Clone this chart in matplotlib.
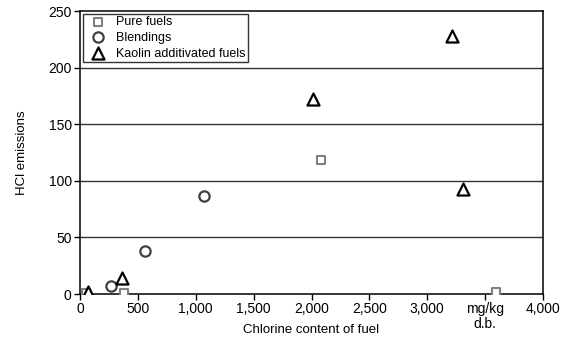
import matplotlib
matplotlib.use('Agg')
import matplotlib.pyplot as plt

plt.rcParams['font.family'] = ['Liberation Sans', 'DejaVu Sans']

# 燃料氯含量 (mg/kg d.b.) 与 HCl 排放
pure_x = [55, 380, 2080, 3595]
pure_y = [1, 1, 118, 2]
blend_x = [268, 565, 1070]
blend_y = [7, 38, 87]
kaolin_x = [70, 363, 2010, 3215, 3310]
kaolin_y = [2, 14, 172, 228, 93]

xticks = [0, 500, 1000, 1500, 2000, 2500, 3000, 3500, 4000]
xticklabels = ['0', '500', '1,000', '1,500', '2,000', '2,500', '3,000', 'mg/kg\nd.b.', '4,000']
yticks = [0, 50, 100, 150, 200, 250]

fig = plt.figure(figsize=(5.7, 3.45), dpi=100)
ax = fig.add_axes([0.1404, 0.1478, 0.8122, 0.8203])

for y in yticks[1:-1]:
    ax.axhline(y, color='#333333', linewidth=1.0, zorder=1)

ax.scatter(pure_x, pure_y, marker='s', s=36, facecolor='white', edgecolor='#808080',
           linewidth=1.5, label='Pure fuels', zorder=3)
ax.scatter(blend_x, blend_y, marker='o', s=55, facecolor='white', edgecolor='#404040',
           linewidth=1.6, label='Blendings', zorder=3)
ax.scatter(kaolin_x, kaolin_y, marker='^', s=75, facecolor='white', edgecolor='black',
           linewidth=1.6, label='Kaolin additivated fuels', zorder=4)

ax.set_xlim(0, 4000)
ax.set_ylim(0, 250)
ax.set_xticks(xticks)
ax.set_xticklabels(xticklabels, fontsize=10, linespacing=1.05)
ax.set_yticks(yticks)
ax.set_yticklabels([str(v) for v in yticks], fontsize=10)
ax.tick_params(direction='out', length=4, width=1, pad=2)

for s in ax.spines.values():
    s.set_linewidth(1.1)
    s.set_color('black')

ax.set_xlabel('Chlorine content of fuel', fontsize=9.5)
ax.xaxis.set_label_coords(0.5, -0.105)
ax.set_ylabel('HCl emissions', fontsize=9.5)
ax.yaxis.set_label_coords(-0.112, 0.5)

leg = ax.legend(loc='upper left', fontsize=9, frameon=True, fancybox=False,
                edgecolor='black', borderaxespad=0.2, handletextpad=0.5,
                borderpad=0.2, labelspacing=0.3, handlelength=2.0)
leg.get_frame().set_linewidth(1.0)

plt.savefig('out.png', dpi=100)
